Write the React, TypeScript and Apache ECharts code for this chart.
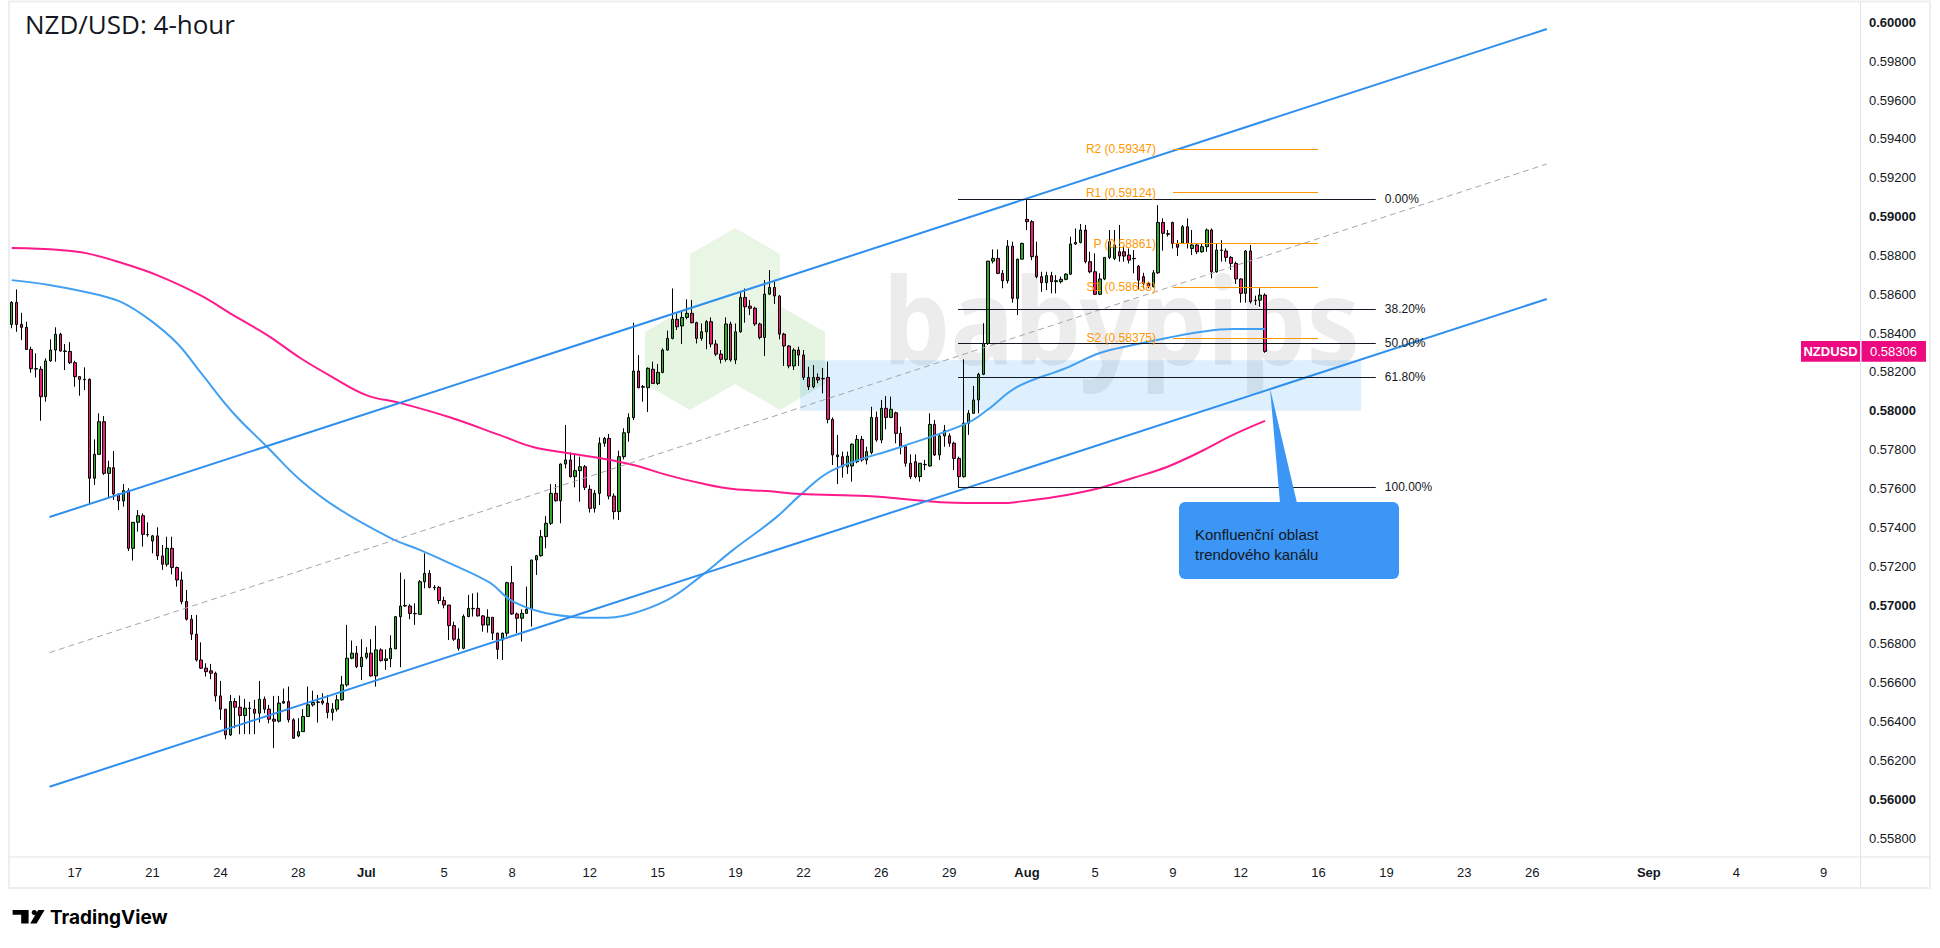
import React, { useEffect, useRef } from "react";
import * as echarts from "echarts";

// ---- candles: [open, close, low, high], one per 4-hour bar ----
const juneBars: number[][] = [
  [0.58445, 0.58558, 0.58425, 0.58565], [0.58558, 0.58445, 0.58407, 0.58625], [0.58445, 0.5843, 0.58364, 0.58505],
  [0.5843, 0.58316, 0.58313, 0.58459], [0.58316, 0.58217, 0.58196, 0.5833], [0.58217, 0.58215, 0.58172, 0.58296],
  [0.58214, 0.58073, 0.57949, 0.5823], [0.58073, 0.58257, 0.58047, 0.5827], [0.58257, 0.58313, 0.58253, 0.58368],
  [0.58313, 0.58394, 0.58253, 0.5843], [0.58394, 0.58308, 0.58305, 0.58402], [0.58308, 0.58306, 0.5821, 0.58344],
  [0.58306, 0.58248, 0.58241, 0.58354], [0.58248, 0.58176, 0.58124, 0.58258], [0.58176, 0.58162, 0.58078, 0.58179],
  [0.58162, 0.5816, 0.58107, 0.58224], [0.58162, 0.57653, 0.57524, 0.58167], [0.57653, 0.57776, 0.57618, 0.57853],
  [0.57776, 0.57944, 0.57773, 0.57987], [0.57944, 0.57678, 0.5767, 0.57973], [0.57678, 0.57707, 0.5755, 0.57743],
  [0.57707, 0.57572, 0.57541, 0.57793], [0.57572, 0.57536, 0.57489, 0.57572], [0.57536, 0.57589, 0.57507, 0.57623],
  [0.57589, 0.57292, 0.57278, 0.57601], [0.57292, 0.57426, 0.57229, 0.57426], [0.57426, 0.5746, 0.57378, 0.57489],
  [0.5746, 0.57364, 0.57301, 0.57472], [0.57364, 0.57362, 0.57352, 0.57426], [0.5733, 0.57356, 0.57266, 0.57361],
  [0.57356, 0.57253, 0.57232, 0.574], [0.57253, 0.5721, 0.57181, 0.57309], [0.5721, 0.57292, 0.57198, 0.57352],
  [0.57292, 0.57193, 0.57158, 0.57352], [0.57193, 0.57129, 0.57095, 0.57198], [0.57129, 0.57018, 0.57004, 0.57172],
  [0.57018, 0.56927, 0.5692, 0.57078], [0.56927, 0.5685, 0.5682, 0.56949], [0.5685, 0.56717, 0.56709, 0.56949],
  [0.56717, 0.56675, 0.56671, 0.56808], [0.56675, 0.56657, 0.56632, 0.567], [0.56661, 0.56649, 0.56618, 0.56697],
  [0.56649, 0.56532, 0.56503, 0.56657], [0.56532, 0.56464, 0.56409, 0.56609], [0.56464, 0.56331, 0.56309, 0.56464],
  [0.56331, 0.56503, 0.56326, 0.56537], [0.56503, 0.56474, 0.56366, 0.5652], [0.56474, 0.56431, 0.56335, 0.56534],
  [0.56431, 0.56469, 0.56336, 0.56517], [0.56469, 0.56467, 0.56335, 0.56501], [0.56464, 0.56443, 0.56335, 0.56512],
  [0.56443, 0.56515, 0.56395, 0.56609], [0.56515, 0.56464, 0.56443, 0.56529], [0.56464, 0.56412, 0.56391, 0.56486],
  [0.56412, 0.56402, 0.56263, 0.56532], [0.56402, 0.56495, 0.56395, 0.56532], [0.56495, 0.56503, 0.56491, 0.5657],
  [0.56503, 0.56409, 0.56395, 0.5658], [0.56409, 0.56314, 0.56311, 0.56417], [0.56326, 0.56348, 0.56319, 0.56417],
  [0.56348, 0.56426, 0.56348, 0.56464], [0.56426, 0.56486, 0.56426, 0.5658], [0.56486, 0.56498, 0.56477, 0.56559],
  [0.56501, 0.56499, 0.56395, 0.56537], [0.56506, 0.56495, 0.56486, 0.56546], [0.56495, 0.56447, 0.56417, 0.56537],
  [0.56447, 0.56464, 0.56405, 0.56495], [0.56464, 0.56512, 0.56452, 0.56537], [0.56512, 0.56589, 0.56508, 0.56635],
  [0.56589, 0.56726, 0.5658, 0.56898], [0.56726, 0.56752, 0.56721, 0.56817], [0.56752, 0.56683, 0.56675, 0.56789],
  [0.56683, 0.56731, 0.56614, 0.56824],
];
const julyBars: number[][] = [
  [0.56731, 0.56752, 0.56721, 0.56783], [0.56752, 0.56635, 0.56632, 0.56824], [0.56635, 0.56769, 0.5658, 0.56893],
  [0.56769, 0.56714, 0.56709, 0.56777], [0.56714, 0.56723, 0.56666, 0.56772], [0.56723, 0.56777, 0.5668, 0.56844],
  [0.56774, 0.5694, 0.56774, 0.56944], [0.5694, 0.56995, 0.5668, 0.57167], [0.56995, 0.56998, 0.56992, 0.57133],
  [0.56995, 0.56957, 0.56927, 0.57004], [0.56957, 0.56955, 0.56898, 0.57009], [0.56952, 0.5712, 0.56952, 0.57129],
  [0.5712, 0.57163, 0.57086, 0.57266], [0.57163, 0.57091, 0.57086, 0.5718], [0.57091, 0.57089, 0.57077, 0.57103],
  [0.57091, 0.57023, 0.57006, 0.57098], [0.57023, 0.57, 0.56983, 0.57043], [0.57, 0.56894, 0.5682, 0.57],
  [0.56894, 0.56824, 0.56815, 0.56914], [0.56824, 0.56777, 0.56765, 0.5688], [0.56777, 0.56941, 0.56772, 0.56952],
  [0.56941, 0.56983, 0.56937, 0.57052], [0.56983, 0.56981, 0.56941, 0.5706], [0.56983, 0.56944, 0.56941, 0.57064],
  [0.56944, 0.56897, 0.56863, 0.56949], [0.56897, 0.56937, 0.56858, 0.56978], [0.56937, 0.56855, 0.5682, 0.56937],
  [0.56855, 0.56772, 0.56721, 0.56858], [0.5682, 0.56855, 0.56717, 0.56858], [0.56855, 0.57115, 0.56838, 0.5712],
  [0.57115, 0.56954, 0.56949, 0.57201], [0.56954, 0.56932, 0.56855, 0.56961], [0.56932, 0.56957, 0.56812, 0.56978],
  [0.56957, 0.56978, 0.56954, 0.57095], [0.56978, 0.57232, 0.56889, 0.57232], [0.57232, 0.57254, 0.57155, 0.57258],
  [0.57254, 0.57352, 0.57249, 0.57386], [0.57352, 0.57421, 0.57292, 0.57458], [0.57421, 0.57575, 0.57412, 0.57623],
  [0.57575, 0.57537, 0.57532, 0.57623], [0.57537, 0.57726, 0.57421, 0.57729], [0.57726, 0.57747, 0.57704, 0.57927],
  [0.57747, 0.57661, 0.57656, 0.57785], [0.57661, 0.57692, 0.57606, 0.57781], [0.57692, 0.57712, 0.57532, 0.57764],
  [0.57712, 0.57606, 0.57592, 0.57721], [0.57596, 0.57498, 0.57476, 0.57618], [0.57498, 0.57575, 0.57476, 0.57592],
  [0.57575, 0.57833, 0.57515, 0.57863], [0.57833, 0.57858, 0.57815, 0.57866], [0.57858, 0.57561, 0.57544, 0.57881],
  [0.57561, 0.57481, 0.57441, 0.57575], [0.57481, 0.57764, 0.57438, 0.57795], [0.57764, 0.57887, 0.5775, 0.5791],
  [0.57887, 0.57965, 0.57841, 0.57987], [0.57965, 0.58205, 0.57953, 0.58454], [0.58205, 0.58119, 0.58116, 0.58287],
  [0.58124, 0.58122, 0.58047, 0.58133], [0.58119, 0.58219, 0.57994, 0.58224], [0.58214, 0.58141, 0.58138, 0.58253],
  [0.58141, 0.58198, 0.58133, 0.58241], [0.58198, 0.58313, 0.58193, 0.58322], [0.58313, 0.58373, 0.5831, 0.58413],
  [0.58373, 0.58471, 0.58368, 0.5863], [0.58471, 0.58433, 0.58416, 0.58502], [0.58437, 0.58481, 0.58344, 0.5851],
  [0.58481, 0.58502, 0.58471, 0.58574], [0.58502, 0.58454, 0.5845, 0.58571], [0.58454, 0.58373, 0.58347, 0.58459],
  [0.58373, 0.58407, 0.58361, 0.5845], [0.58407, 0.58459, 0.58317, 0.58467], [0.58459, 0.58344, 0.58327, 0.58481],
  [0.58344, 0.58292, 0.58282, 0.58365], [0.58292, 0.58265, 0.58244, 0.58313], [0.58265, 0.58447, 0.58253, 0.58481],
  [0.58447, 0.58262, 0.58253, 0.58459], [0.58262, 0.58407, 0.58241, 0.5845], [0.58407, 0.58584, 0.58402, 0.58613],
  [0.58584, 0.58536, 0.58454, 0.5863], [0.58539, 0.58528, 0.58493, 0.5857], [0.58528, 0.58447, 0.58437, 0.58536],
  [0.58447, 0.58378, 0.58368, 0.58454], [0.58378, 0.58601, 0.58282, 0.58673], [0.58601, 0.58635, 0.58596, 0.58725],
  [0.58635, 0.58591, 0.5855, 0.5867], [0.58591, 0.58395, 0.58368, 0.58596], [0.58395, 0.58334, 0.58231, 0.58402],
  [0.58334, 0.58231, 0.58219, 0.58339], [0.58231, 0.58313, 0.5821, 0.58322], [0.58313, 0.58287, 0.58231, 0.5833],
  [0.58287, 0.58172, 0.58159, 0.58313], [0.58172, 0.58124, 0.58107, 0.58227], [0.58124, 0.58172, 0.58116, 0.58236],
  [0.58172, 0.58159, 0.58142, 0.58193], [0.58167, 0.58165, 0.5809, 0.58221], [0.58172, 0.57956, 0.57936, 0.58253],
  [0.57956, 0.57773, 0.57721, 0.57966], [0.57773, 0.57764, 0.57623, 0.57876], [0.57764, 0.57712, 0.57656, 0.5779],
  [0.57712, 0.57767, 0.57675, 0.5779], [0.57716, 0.57828, 0.57635, 0.57833], [0.57738, 0.57853, 0.5773, 0.57876],
  [0.57853, 0.57747, 0.57738, 0.57871], [0.57747, 0.5779, 0.57724, 0.57815], [0.57785, 0.57966, 0.57776, 0.58021],
  [0.57966, 0.5785, 0.57841, 0.57996], [0.5785, 0.58013, 0.57833, 0.58056], [0.58013, 0.57966, 0.57905, 0.58076],
  [0.57966, 0.58008, 0.57962, 0.58073], [0.5799, 0.57884, 0.57833, 0.57996], [0.57884, 0.57815, 0.57776, 0.57918],
  [0.57815, 0.5773, 0.57712, 0.57815], [0.5773, 0.57661, 0.57649, 0.57776], [0.57738, 0.57661, 0.57653, 0.57776],
  [0.57661, 0.5773, 0.57635, 0.5773], [0.57724, 0.57722, 0.57695, 0.57747], [0.57716, 0.5793, 0.57712, 0.57987],
  [0.5793, 0.57773, 0.57767, 0.57953], [0.57773, 0.57871, 0.57747, 0.57884], [0.57871, 0.57898, 0.57815, 0.57927],
  [0.57871, 0.57833, 0.57815, 0.57884], [0.57833, 0.57755, 0.57695, 0.57841], [0.57755, 0.57661, 0.57606, 0.57764],
  [0.57661, 0.57936, 0.57656, 0.58265], [0.57936, 0.57987, 0.57876, 0.58004], [0.57987, 0.58056, 0.57987, 0.58128],
  [0.58056, 0.58188, 0.57987, 0.58196], [0.58188, 0.58347, 0.58184, 0.58451], [0.58347, 0.58771, 0.58339, 0.58771],
  [0.58771, 0.58785, 0.58759, 0.58831], [0.58785, 0.58708, 0.58704, 0.58831], [0.58708, 0.5867, 0.58631, 0.58725],
  [0.5867, 0.58848, 0.58656, 0.58879], [0.58848, 0.58579, 0.58557, 0.58871], [0.58579, 0.58781, 0.58493, 0.58783],
  [0.58781, 0.58862, 0.5878, 0.58866],
];
const augustBars: number[][] = [
  [0.58986, 0.58974, 0.58931, 0.59089], [0.58974, 0.58794, 0.58776, 0.58982], [0.58797, 0.58691, 0.58682, 0.58871],
  [0.58691, 0.5866, 0.58613, 0.58716], [0.5866, 0.58696, 0.58622, 0.58716], [0.58696, 0.58665, 0.58605, 0.58716],
  [0.58665, 0.5867, 0.58605, 0.58699], [0.58665, 0.58677, 0.58656, 0.58691], [0.58677, 0.58704, 0.58672, 0.58708],
  [0.58704, 0.58859, 0.58699, 0.58897], [0.58859, 0.58867, 0.58854, 0.58939], [0.58867, 0.58931, 0.58862, 0.58962],
  [0.58931, 0.58768, 0.58759, 0.58957], [0.58768, 0.58716, 0.58708, 0.58819], [0.58716, 0.586, 0.58596, 0.58811],
  [0.586, 0.58679, 0.58596, 0.58708], [0.58679, 0.5879, 0.58673, 0.5879], [0.5879, 0.58871, 0.58781, 0.58931],
  [0.58785, 0.58854, 0.58776, 0.58931], [0.58819, 0.58797, 0.58768, 0.58957], [0.58819, 0.58797, 0.58768, 0.58848],
  [0.58802, 0.58776, 0.58759, 0.58836], [0.58785, 0.58783, 0.58708, 0.58828], [0.58745, 0.58673, 0.58625, 0.58751],
  [0.58691, 0.58656, 0.58631, 0.58711], [0.58656, 0.58639, 0.58631, 0.58665], [0.58639, 0.58711, 0.58636, 0.58725],
  [0.58711, 0.5897, 0.58705, 0.59059], [0.5897, 0.58914, 0.58825, 0.58991], [0.58912, 0.58909, 0.58897, 0.58931],
  [0.5897, 0.58862, 0.58836, 0.58974], [0.58862, 0.58842, 0.58797, 0.58879], [0.58862, 0.58948, 0.58859, 0.58957],
  [0.58948, 0.58862, 0.58836, 0.58991], [0.58836, 0.58854, 0.58802, 0.58931], [0.58854, 0.58819, 0.58807, 0.58862],
  [0.58819, 0.58845, 0.58814, 0.58862], [0.58845, 0.58931, 0.58819, 0.58939], [0.58931, 0.58716, 0.58682, 0.58939],
  [0.58716, 0.58828, 0.58711, 0.58862], [0.58828, 0.58826, 0.58768, 0.58879], [0.58823, 0.5879, 0.58768, 0.58836],
  [0.5879, 0.58759, 0.58725, 0.58797], [0.58759, 0.58679, 0.58653, 0.58768], [0.58679, 0.58605, 0.58557, 0.58682],
  [0.58605, 0.58823, 0.58557, 0.58828], [0.58823, 0.58562, 0.58553, 0.58854], [0.5857, 0.58568, 0.58545, 0.58593],
  [0.5857, 0.58596, 0.58536, 0.58631], [0.58596, 0.58306, 0.58299, 0.58605],
];

// ---- moving averages: [bar index, price] ----
const ma100Points: number[][] = [
  [0, 0.58673], [8, 0.58647], [18, 0.58596], [23, 0.58555], [28.5, 0.58467], [34, 0.58349], [39, 0.58194],
  [45.6, 0.57989], [52.6, 0.57814], [59.4, 0.57644], [67, 0.575], [78, 0.57345], [84, 0.57284], [90, 0.57217],
  [98.5, 0.57114], [102.6, 0.57027], [108.8, 0.56965], [115.5, 0.56939], [121, 0.56934], [126.7, 0.56949],
  [135, 0.57027], [141.7, 0.57145], [148.5, 0.57284], [157.5, 0.57454], [162.3, 0.57566], [169, 0.57695],
  [183, 0.57814], [196.7, 0.57937], [200.8, 0.58004], [207, 0.58123], [217, 0.5822], [224, 0.58298],
  [230.8, 0.58339], [237.8, 0.58375], [244.6, 0.58406], [251.4, 0.58421], [258, 0.58421],
];
const ma200Points: number[][] = [
  [0, 0.58838], [10, 0.58828], [15.3, 0.58812], [22.7, 0.58761], [29.9, 0.58699], [38.8, 0.58596],
  [45.6, 0.58493], [52.6, 0.5839], [59.4, 0.58272], [66, 0.58174], [73, 0.58081], [80, 0.5804], [90, 0.57968],
  [100.5, 0.57875], [107.3, 0.57814], [114.3, 0.57783], [121, 0.57757], [128, 0.57721], [135, 0.57669],
  [141.7, 0.57628], [148.5, 0.57597], [155.5, 0.57587], [162.3, 0.57572], [176, 0.57561], [196.7, 0.57525],
  [203.4, 0.57525], [210.2, 0.57541], [217.2, 0.57567], [224, 0.57603], [230.8, 0.57654], [237.8, 0.57711],
  [244.6, 0.57788], [251.4, 0.57876], [258, 0.57948],
];

// ---- drawings ----
const channelUpper: number[][] = [[7.78, 0.57453], [316, 0.59966]];
const channelLower: number[][] = [[7.78, 0.56064], [316, 0.58576]];
const channelMid: number[][] = [[7.78, 0.56755], [316, 0.59271]];
const fibLabels = ["0.00%", "38.20%", "50.00%", "61.80%", "100.00%"];
const fibPrices = [0.59089, 0.58522, 0.58348, 0.58172, 0.57606];
const fibSpan = [194.8, 280.8];
const pivotNames = ["R2", "R1", "P", "S1", "S2"];
const pivotPrices = [0.59347, 0.59124, 0.58861, 0.58638, 0.58375];
const pivotSpan = [239.05, 268.9];
const zoneX = [162.3, 277.8];
const zoneY = [0.58, 0.5826];

// ---- axes ----
const xTickIndex = [13, 29, 43, 59, 73, 89, 103, 119, 133, 149, 163, 179, 193, 209, 223, 239, 253, 269, 283, 299, 313, 337, 355, 373];
const xTickLabels = ["17", "21", "24", "28", "Jul", "5", "8", "12", "15", "19", "22", "26", "29", "Aug", "5", "9", "12", "16", "19", "23", "26", "Sep", "4", "9"];
const monthLabels = ["Jul", "Aug", "Sep"];
const priceTicks = [0.558, 0.56, 0.562, 0.564, 0.566, 0.568, 0.57, 0.572, 0.574, 0.576, 0.578, 0.58, 0.582, 0.584, 0.586, 0.588, 0.59, 0.592, 0.594, 0.596, 0.598, 0.6];

const FONT = '"Liberation Sans", Arial, sans-serif';
const TXT = "#131722";
const UP = "#2eaa2e";
const DOWN = "#e91e74";
const PINK = "#ec0a80";

function hexPoints(cx: number, cy: number, r: number) {
  const pts: number[][] = [];
  for (let k = 0; k < 6; k++) {
    const a = (Math.PI / 180) * (60 * k - 90);
    pts.push([cx + r * Math.cos(a), cy + r * Math.sin(a)]);
  }
  return pts;
}

export default function App() {
  const ref = useRef<HTMLDivElement>(null);

  useEffect(() => {
    if (!ref.current) return;
    const chart = echarts.init(ref.current, null, { renderer: "svg" });
    const bars = [...juneBars, ...julyBars, ...augustBars];
    const candleData = bars.map((b, i) => [i, b[0], b[1], b[2], b[3]]);
    const lastClose = bars[bars.length - 1][1];

    const option: any = {
      animation: false,
      backgroundColor: "#ffffff",
      grid: { left: 9, top: 3, width: 1851, height: 854.5, outerBoundsMode: "none" },
      xAxis: {
        type: "value",
        min: -0.556,
        max: 380.47,
        axisLine: { show: false },
        axisTick: { show: false },
        splitLine: { show: false },
        axisLabel: {
          customValues: xTickIndex,
          margin: 8,
          color: TXT,
          fontSize: 13,
          fontFamily: FONT,
          formatter: (v: number) => {
            const k = xTickIndex.indexOf(Math.round(v));
            const t = k >= 0 ? xTickLabels[k] : "";
            return monthLabels.includes(t) ? `{m|${t}}` : t;
          },
          rich: { m: { fontWeight: "bold", fontSize: 13, color: TXT, fontFamily: FONT } },
        },
      },
      yAxis: {
        type: "value",
        position: "right",
        min: 0.557,
        max: 0.601,
        scale: true,
        axisLine: { show: false },
        axisTick: { show: false },
        splitLine: { show: false },
        axisLabel: {
          customValues: priceTicks,
          margin: 9,
          color: TXT,
          fontSize: 13,
          fontFamily: FONT,
          formatter: (v: number) => {
            const s = v.toFixed(5);
            const bold = Math.abs(v * 100 - Math.round(v * 100)) < 1e-6;
            return bold ? `{b|${s}}` : s;
          },
          rich: { b: { fontWeight: "bold", fontSize: 13, color: TXT, fontFamily: FONT } },
        },
      },
      series: [
        {
          name: "zone",
          type: "line",
          z: 1,
          silent: true,
          symbol: "none",
          lineStyle: { opacity: 0 },
          data: [[zoneX[0], zoneY[0]]],
          markArea: {
            silent: true,
            itemStyle: { color: "rgba(33,150,243,0.15)" },
            data: [[{ coord: [zoneX[0], zoneY[1]] }, { coord: [zoneX[1], zoneY[0]] }]],
          },
        },
        {
          name: "NZDUSD",
          type: "candlestick",
          z: 2,
          barWidth: 3,
          encode: { x: 0, y: [1, 2, 3, 4] },
          itemStyle: { color: UP, color0: DOWN, borderColor: "#000", borderColor0: "#000", borderWidth: 1 },
          data: candleData,
        },
        {
          name: "MA100",
          type: "line",
          z: 3,
          smooth: 0.4,
          symbol: "none",
          lineStyle: { color: "#42a0f2", width: 2 },
          data: ma100Points,
        },
        {
          name: "MA200",
          type: "line",
          z: 3,
          smooth: 0.4,
          symbol: "none",
          lineStyle: { color: "#ff1a8c", width: 2 },
          data: ma200Points,
        },
        {
          name: "channelUpper",
          type: "line",
          z: 4,
          symbol: "none",
          lineStyle: { color: "#2f8fef", width: 2 },
          data: channelUpper,
        },
        {
          name: "channelLower",
          type: "line",
          z: 4,
          symbol: "none",
          lineStyle: { color: "#2f8fef", width: 2 },
          data: channelLower,
        },
        {
          name: "channelMid",
          type: "line",
          z: 4,
          symbol: "none",
          lineStyle: { color: "#a3a6ad", width: 1, type: [6, 4] },
          data: channelMid,
        },
        {
          name: "fib",
          type: "line",
          z: 4,
          symbol: "none",
          lineStyle: { opacity: 0 },
          data: [[fibSpan[0], fibPrices[0]]],
          markLine: {
            silent: true,
            symbol: ["none", "none"],
            lineStyle: { color: "#131722", width: 1, type: "solid" },
            label: { show: true, position: "end", distance: 9, color: TXT, fontSize: 12, fontFamily: FONT },
            data: fibPrices.map((p, k) => [
              { coord: [fibSpan[0], p], label: { formatter: fibLabels[k] } },
              { coord: [fibSpan[1], p] },
            ]),
          },
        },
        {
          name: "pivots",
          type: "line",
          z: 4,
          symbol: "none",
          lineStyle: { opacity: 0 },
          data: [[pivotSpan[0], pivotPrices[0]]],
          markLine: {
            silent: true,
            symbol: ["none", "none"],
            lineStyle: { color: "#ff9800", width: 1, type: "solid" },
            label: { show: true, position: "start", distance: 17, color: "#ff9800", fontSize: 12, fontFamily: FONT },
            data: pivotPrices.map((p, k) => [
              { coord: [pivotSpan[0], p], label: { formatter: `${pivotNames[k]} (${p.toFixed(5)})` } },
              { coord: [pivotSpan[1], p] },
            ]),
          },
        },
      ],
    };
    chart.setOption(option);

    const yLast = chart.convertToPixel({ yAxisIndex: 0 }, lastClose) as number;
    const hexColor = "#e6f4e2";
    const graphics: any[] = [
      // frame
      { type: "rect", z: 50, silent: true, shape: { x: 9, y: 1.5, width: 1921, height: 886.5 }, style: { fill: "none", stroke: "#eceef2", lineWidth: 2 } },
      { type: "line", z: 50, silent: true, shape: { x1: 1860.5, y1: 2, x2: 1860.5, y2: 887 }, style: { stroke: "#e0e3eb", lineWidth: 1 } },
      { type: "line", z: 50, silent: true, shape: { x1: 9, y1: 857, x2: 1930, y2: 857 }, style: { stroke: "#e0e3eb", lineWidth: 1 } },
      // watermark
      { type: "polygon", z: 0, silent: true, shape: { points: hexPoints(690, 358, 52) }, style: { fill: hexColor } },
      { type: "polygon", z: 0, silent: true, shape: { points: hexPoints(780, 358, 52) }, style: { fill: hexColor } },
      { type: "polygon", z: 0, silent: true, shape: { points: hexPoints(735, 280, 52) }, style: { fill: "#e9f6e6" } },
      {
        type: "text", z: 0, silent: true, x: 883, y: 318, scaleX: 0.88,
        style: { text: "babypips", fill: "rgba(0,0,0,0.075)", font: 'bold 121px "Noto Sans", sans-serif', verticalAlign: "middle" },
      },
      // title
      {
        type: "text", z: 60, silent: true, x: 25, y: 24,
        style: { text: "NZD/USD: 4-hour", fill: TXT, font: '26px "Open Sans", sans-serif', verticalAlign: "middle" },
      },
      // callout
      { type: "polygon", z: 60, silent: true, shape: { points: [[1270, 388], [1297, 503], [1280, 503]] }, style: { fill: "#3b96f5" } },
      { type: "rect", z: 60, silent: true, shape: { x: 1179, y: 502, width: 220, height: 77, r: 6 }, style: { fill: "#3b96f5" } },
      {
        type: "text", z: 61, silent: true, x: 1195, y: 524,
        style: { text: "Konfluenční oblast\ntrendového kanálu", fill: TXT, font: '15px "Liberation Sans", Arial, sans-serif', lineHeight: 20, verticalAlign: "top" },
      },
      // last price tags
      { type: "rect", z: 60, silent: true, shape: { x: 1801, y: yLast - 10.3, width: 59, height: 20.6 }, style: { fill: PINK } },
      {
        type: "text", z: 61, silent: true, x: 1830.5, y: yLast,
        style: { text: "NZDUSD", fill: "#fff", font: `bold 13px ${FONT}`, align: "center", verticalAlign: "middle" },
      },
      { type: "rect", z: 60, silent: true, shape: { x: 1861.5, y: yLast - 10.3, width: 64.5, height: 20.6 }, style: { fill: PINK } },
      {
        type: "text", z: 61, silent: true, x: 1893.5, y: yLast,
        style: { text: lastClose.toFixed(5), fill: "#fff", font: `13px ${FONT}`, align: "center", verticalAlign: "middle" },
      },
      // TradingView logo
      { type: "polygon", z: 60, silent: true, shape: { points: [[12.6, 910], [28.6, 910], [28.6, 923.5], [21.2, 923.5], [21.2, 914.8], [12.6, 914.8]] }, style: { fill: "#000" } },
      { type: "circle", z: 60, silent: true, shape: { cx: 34.3, cy: 912.6, r: 2.6 }, style: { fill: "#000" } },
      { type: "polygon", z: 60, silent: true, shape: { points: [[38.2, 910], [44.6, 910], [36.6, 923.5], [30.2, 923.5]] }, style: { fill: "#000" } },
      {
        type: "text", z: 60, silent: true, x: 50, y: 917,
        style: { text: "TradingView", fill: "#000", font: 'bold 19px "Inter", "Liberation Sans", sans-serif', verticalAlign: "middle" },
      },
    ];
    chart.setOption({ graphic: graphics });

    return () => chart.dispose();
  }, []);

  return (
    <div
      ref={ref}
      style={{ position: "fixed", left: 0, top: 0, width: 1940, height: 948, background: "#fff" }}
    />
  );
}
